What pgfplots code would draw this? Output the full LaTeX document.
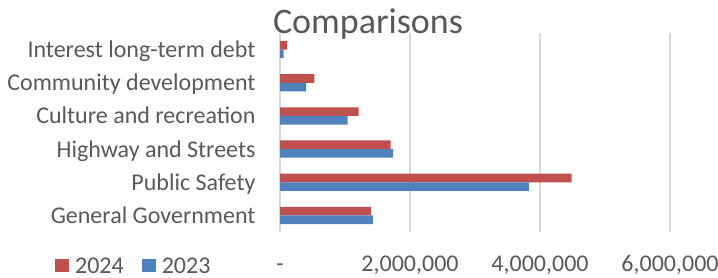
\documentclass[border=0pt]{standalone}
\usepackage{pgfplots}
\pgfplotsset{compat=1.18}
\usepackage{fontspec}
\setmainfont{Carlito}
\definecolor{red24}{HTML}{C0504D}
\definecolor{blue23}{HTML}{4F81BD}
\definecolor{txt}{HTML}{595959}
\definecolor{gridc}{HTML}{D9D9D9}
\begin{document}
\begin{tikzpicture}
\useasboundingbox (0bp,0bp) rectangle (718bp,278bp);
\begin{axis}[
 at={(280bp,46bp)}, anchor=south west,
 scale only axis, width=390bp, height=199bp,
 xbar, bar width=8.6bp,
 xmin=0, xmax=6000000, ymin=-0.5, ymax=5.5,
 xtick={0,2000000,4000000,6000000},
 xticklabels={-,{2,000,000},{4,000,000},{6,000,000}},
 ytick={0,1,2,3,4,5},
 yticklabels={General Government,Public Safety,Highway and Streets,Culture and recreation,Community development,Interest long-term debt},
 scaled x ticks=false,
 xmajorgrids, major grid style={draw=gridc, line width=1.3bp},
 axis line style={draw=none},
 major tick length=0pt,
 tick label style={font=\fontsize{24bp}{28bp}\selectfont, text=txt},
 xticklabel style={anchor=base, yshift=-39bp},
 yticklabel style={anchor=base east, xshift=-21bp, yshift=-8bp},
 legend style={at={(axis description cs:-0.577,-0.1725)}, anchor=west, draw=none, fill=none, inner sep=0pt,
   font=\fontsize{24bp}{28bp}\selectfont, text=txt, legend columns=2,
   /tikz/every even column/.append style={column sep=16bp}},
]
\addplot[fill=red24, draw=none, bar shift=4.3bp,
  legend image code/.code={\fill[red24] (0bp,-6bp) rectangle (14bp,7bp); \path (0bp,0bp) -- (18bp,0bp);}]
 coordinates {(1403000,0) (4487000,1) (1700000,2) (1210000,3) (530000,4) (108000,5)};
\addlegendentry{2024}
\addplot[fill=blue23, draw=none, bar shift=-4.3bp,
  legend image code/.code={\fill[blue23] (0bp,-6bp) rectangle (14bp,7bp); \path (0bp,0bp) -- (18bp,0bp);}]
 coordinates {(1430000,0) (3829000,1) (1740000,2) (1040000,3) (400000,4) (57000,5)};
\addlegendentry{2023}
\end{axis}
\node[font=\fontsize{36bp}{40bp}\selectfont, text=txt, anchor=base] at (368bp,244bp) {Comparisons};
\end{tikzpicture}
\end{document}
